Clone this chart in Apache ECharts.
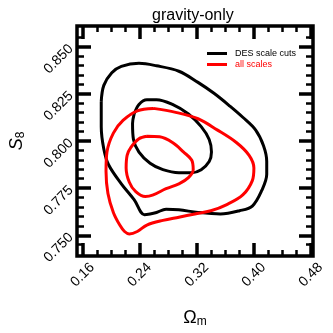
<!DOCTYPE html>
<html><head><meta charset="utf-8">
<script src="https://cdn.jsdelivr.net/npm/echarts@6/dist/echarts.min.js"></script>
<style>html,body{margin:0;padding:0;background:#fff}#c{width:333px;height:333px}</style>
</head><body><div id="c"></div>
<script>
// Contours (Omega_m, S8)
const desOuter = [[0.186,0.821],[0.1896,0.8295],[0.2008,0.8362],[0.2142,0.8396],[0.2389,0.8412],[0.2635,0.8399],[0.2949,0.837],[0.3217,0.8311],[0.3441,0.8253],[0.3665,0.8185],[0.3845,0.8126],[0.4024,0.8059],[0.4136,0.7975],[0.4181,0.7891],[0.4181,0.7823],[0.4113,0.7739],[0.3979,0.7655],[0.38,0.763],[0.3531,0.7613],[0.3217,0.7621],[0.2949,0.7635],[0.2769,0.7638],[0.2635,0.7621],[0.2545,0.7613],[0.2465,0.7609],[0.2321,0.7689],[0.2142,0.7773],[0.1963,0.7874],[0.1896,0.7958],[0.186,0.8076],[0.186,0.821]];
const desInner = [[0.2321,0.8143],[0.2389,0.8194],[0.25,0.8219],[0.2635,0.8219],[0.2859,0.8194],[0.3083,0.8143],[0.3262,0.8076],[0.3374,0.8008],[0.3406,0.7941],[0.3374,0.7891],[0.3262,0.7848],[0.3128,0.7832],[0.2949,0.7832],[0.2725,0.7848],[0.2545,0.7882],[0.2389,0.7941],[0.2312,0.8008],[0.2299,0.8093],[0.2321,0.8143]];
const allOuter = [[0.259,0.8173],[0.2904,0.8152],[0.3217,0.8118],[0.3486,0.8059],[0.3755,0.7992],[0.3934,0.7924],[0.4001,0.7857],[0.3979,0.779],[0.3845,0.7714],[0.3621,0.7663],[0.3397,0.763],[0.3173,0.7613],[0.2949,0.7596],[0.2725,0.7579],[0.25,0.7554],[0.2366,0.752],[0.2254,0.7507],[0.2187,0.752],[0.212,0.7554],[0.203,0.7621],[0.1954,0.7722],[0.1927,0.784],[0.194,0.7941],[0.203,0.8042],[0.2165,0.8109],[0.2366,0.816],[0.259,0.8173]];
const allInner = [[0.25,0.8025],[0.268,0.8022],[0.2859,0.7992],[0.3016,0.7941],[0.3128,0.7899],[0.315,0.7848],[0.3083,0.7806],[0.2949,0.7773],[0.2769,0.7747],[0.259,0.7714],[0.2478,0.7705],[0.2344,0.7731],[0.2254,0.7781],[0.2209,0.7857],[0.2223,0.7924],[0.2276,0.7966],[0.2389,0.8012],[0.25,0.8025]];

const xMajor = [0.16,0.24,0.32,0.40,0.48];
const xMinor = [0.18,0.20,0.22,0.26,0.28,0.30,0.34,0.36,0.38,0.42,0.44,0.46];
const yMajor = [0.750,0.775,0.800,0.825,0.850];
const yMinor = [0.745,0.755,0.760,0.765,0.770,0.780,0.785,0.790,0.795,0.805,0.810,0.815,0.820,0.830,0.835,0.840,0.845,0.855];

const X_MIN = 0.152, X_MAX = 0.483, Y_MIN = 0.739, Y_MAX = 0.861;
const FONT = 'Liberation Sans';

function xAx(pos, vals, len, w, labels) {
  return {
    type:'value', position:pos, min:X_MIN, max:X_MAX,
    axisLine:{show:false}, splitLine:{show:false},
    axisTick:{show:true, inside:true, length:len, customValues:vals, lineStyle:{color:'#000', width:w}},
    axisLabel: labels ? {show:true, customValues:vals, rotate:45, align:'center', verticalAlign:'middle', margin:19,
      fontFamily:FONT, fontSize:14, color:'#000', formatter:v=>v.toFixed(2)} : {show:false},
    name: labels ? '{a|Ω}{b|m}' : '', nameLocation:'middle', nameGap:52,
    nameTextStyle:{rich:{a:{fontFamily:FONT, fontSize:18, color:'#000'}, b:{fontFamily:FONT, fontSize:12, color:'#000', padding:[8,0,0,0]}}}
  };
}
function yAx(pos, vals, len, w, labels) {
  return {
    type:'value', position:pos, min:Y_MIN, max:Y_MAX,
    axisLine:{show:false}, splitLine:{show:false},
    axisTick:{show:true, inside:true, length:len, customValues:vals, lineStyle:{color:'#000', width:w}},
    axisLabel: labels ? {show:true, customValues:vals, rotate:45, margin:6,
      fontFamily:FONT, fontSize:14, color:'#000', formatter:v=>v.toFixed(3)} : {show:false},
    name: labels ? '{a|S}{b|8}' : '', nameLocation:'middle', nameGap:50, nameRotate:90,
    nameTextStyle:{rich:{a:{fontFamily:FONT, fontSize:18, fontStyle:'italic', color:'#000'}, b:{fontFamily:FONT, fontSize:12, color:'#000', padding:[8,0,0,0]}}}
  };
}

const chart = echarts.init(document.getElementById('c'), null, {renderer:'canvas'});
const lineS = (name, data, color) => ({
  type:'line', name, data, xAxisIndex:0, yAxisIndex:0, symbol:'none', smooth:0.35,
  lineStyle:{color, width:3}, itemStyle:{color}, animation:false
});
chart.setOption({
  animation:false,
  title:{text:'gravity-only', left:147, top:3, textStyle:{fontFamily:FONT, fontSize:16, fontWeight:'normal', color:'#000'}},
  grid:{left:67, right:20, top:26, bottom:66, show:true, borderColor:'#000', borderWidth:3.5, backgroundColor:'transparent'},
  legend:{orient:'vertical', left:202, top:44, itemWidth:20, itemHeight:3, itemGap:2, icon:'rect',
    textStyle:{fontFamily:FONT, fontSize:9, padding:[0,0,0,3]},
    data:[{name:'DES scale cuts', textStyle:{color:'#000'}},{name:'all scales', textStyle:{color:'#ff0000'}}]},
  xAxis:[xAx('bottom', xMajor, 13, 3.5, true), xAx('bottom', xMinor, 6, 2.5, false), xAx('top', xMajor, 13, 3.5, false), xAx('top', xMinor, 6, 2.5, false)],
  yAxis:[yAx('left', yMajor, 14, 3.5, true), yAx('left', yMinor, 7, 2.5, false), yAx('right', yMajor, 14, 3.5, false), yAx('right', yMinor, 7, 2.5, false)],
  series:[
    lineS('DES scale cuts', desOuter, '#000'),
    {...lineS('DES scale cuts', desInner, '#000')},
    lineS('all scales', allOuter, '#ff0000'),
    {...lineS('all scales', allInner, '#ff0000')}
  ]
});
</script></body></html>
